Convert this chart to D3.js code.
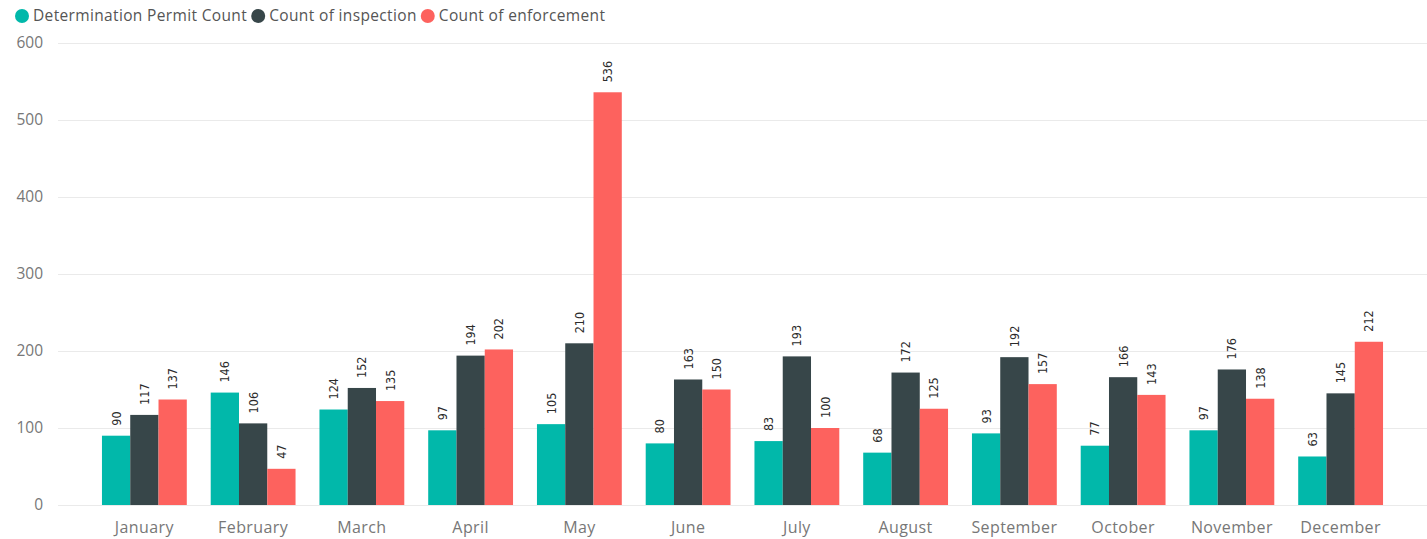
<!DOCTYPE html>
<html>
<head>
<meta charset="utf-8">
<script src="https://cdn.jsdelivr.net/npm/d3@7"></script>
<style>
  body { margin: 0; background: #fff; }
  svg { display: block; }
</style>
</head>
<body>
<div id="chart"></div>
<script>
// data
const months = ['January', 'February', 'March', 'April', 'May', 'June', 'July', 'August', 'September', 'October', 'November', 'December']
const seriesNames = ['Determination Permit Count', 'Count of inspection', 'Count of enforcement']
const seriesColors = ['#01B8AA', '#374649', '#FD625E']
const permitCounts = [90, 146, 124, 97, 105, 80, 83, 68, 93, 77, 97, 63]
const inspectionCounts = [117, 106, 152, 194, 210, 163, 193, 172, 192, 166, 176, 145]
const enforcementCounts = [137, 47, 135, 202, 536, 150, 100, 125, 157, 143, 138, 212]
const yTicks = [0, 100, 200, 300, 400, 500, 600]

const width = 1427
const height = 539

const svg = d3.select('#chart').append('svg')
  .attr('width', width)
  .attr('height', height)

const series = [permitCounts, inspectionCounts, enforcementCounts]

// scales
const x = d3.scaleBand().domain(months).range([90, 1395]).paddingInner(0.22).paddingOuter(0.11)
const xs = d3.scaleBand().domain(d3.range(3)).range([0, x.bandwidth()])
const y = d3.scaleLinear().domain([0, 600]).range([505, 43])

// grid + y axis
const yAxis = svg.append('g')
  .attr('transform', 'translate(58,0)')
  .call(d3.axisLeft(y).tickValues(yTicks).tickSize(-(width - 58)).tickPadding(15))
yAxis.select('.domain').remove()
yAxis.selectAll('.tick line').attr('stroke', '#eaeaea').attr('stroke-width', 1)
yAxis.selectAll('.tick text')
  .attr('fill', '#777')
  .style('font-family', '"Open Sans", sans-serif')
  .style('font-size', '15.5px')

// x axis
const xAxis = svg.append('g')
  .attr('transform', 'translate(0,505)')
  .call(d3.axisBottom(x).tickSize(0).tickPadding(17))
xAxis.select('.domain').remove()
xAxis.selectAll('.tick text')
  .attr('fill', '#777')
  .style('font-family', '"Open Sans", sans-serif')
  .style('font-size', '16px')
  .style('letter-spacing', '0.4px')

// bars
const groups = svg.append('g').selectAll('g.month').data(months).enter()
  .append('g')
  .classed('month', true)
  .attr('transform', d => `translate(${x(d)},0)`)

const cells = groups.selectAll('g.cell')
  .data((m, i) => series.map((s, k) => ({ k, v: s[i] })))
  .enter()
  .append('g')
  .classed('cell', true)

cells.append('rect')
  .attr('x', d => xs(d.k))
  .attr('y', d => y(d.v))
  .attr('width', xs.bandwidth())
  .attr('height', d => y(0) - y(d.v))
  .attr('fill', d => seriesColors[d.k])

cells.append('text')
  .attr('transform', d => `translate(${xs(d.k) + xs.bandwidth() / 2 + 4.5},${y(d.v) - 10}) rotate(-90)`)
  .attr('text-anchor', 'start')
  .attr('fill', '#2b2b2b')
  .style('font-family', '"DejaVu Sans Condensed", "Liberation Sans Narrow", sans-serif')
  .style('font-size', '12.5px')
  .text(d => d.v)

// legend
const legend = svg.append('g')
  .attr('transform', 'translate(15,16)')
  .style('font-family', '"Open Sans", sans-serif')
  .style('font-size', '15.5px')
  .style('letter-spacing', '0.35px')

const item = legend.selectAll('g.item').data(seriesNames).enter()
  .append('g')
  .classed('item', true)

item.append('circle')
  .attr('cx', 7)
  .attr('r', 7)
  .attr('fill', (d, i) => seriesColors[i])

item.append('text')
  .attr('x', 18)
  .attr('dy', 5)
  .attr('fill', '#555')
  .text(d => d)

let dx = 0
item.each(function() {
  d3.select(this).attr('transform', `translate(${dx},0)`)
  dx += this.getBBox().width + 4
})
</script>
</body>
</html>
